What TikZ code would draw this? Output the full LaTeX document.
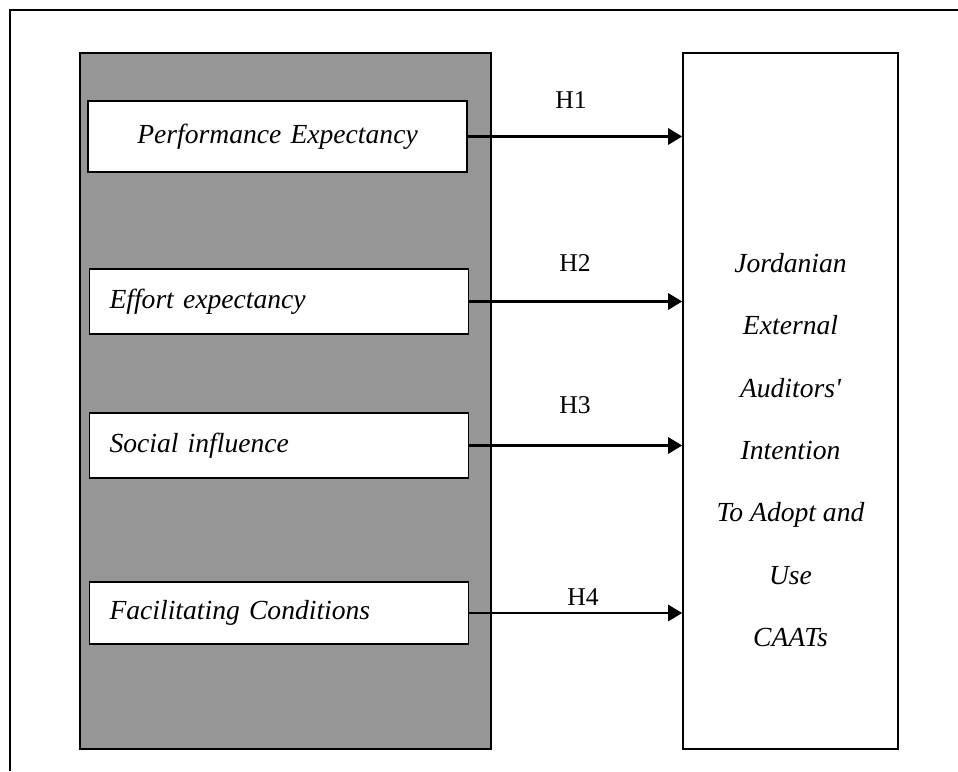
\documentclass[tikz,border=0pt]{standalone}
\usepackage{fontspec}
\setmainfont{Liberation Serif}
\usepackage{tikz}
\usetikzlibrary{arrows.meta}

\definecolor{panelgray}{RGB}{150,150,150}

\begin{document}
\begin{tikzpicture}[x=0.5pt, y=-0.5pt, inner sep=0pt]
    \tikzstyle{panel}=[rectangle, fill=panelgray, draw=black, line width=1pt, minimum width=205.5pt, minimum height=348pt]
    \tikzstyle{outbox}=[rectangle, fill=white, draw=black, line width=0.8pt, minimum width=107.5pt, minimum height=348pt]
    \tikzstyle{fac}=[rectangle, fill=white, draw=black, line width=0.8pt, text width=179.5pt, inner xsep=5pt, align=left, font=\fontsize{13.8}{16}\selectfont\itshape]
    \tikzstyle{hyp}=[draw=black, line width=1.4pt, -{Triangle[length=7pt,width=8pt]}]
    \tikzstyle{hlab}=[font=\fontsize{12.8}{14}\selectfont]

    \useasboundingbox (0,0) rectangle (958,771);
    \draw[line width=0.6pt] (10,771) -- (10,10) -- (958,10);

    \node[panel] (G) at (285.5,401) {};
    \node[outbox] (CAAT) at (790.5,401) {};

    \node[fac, align=center, minimum height=35.5pt] (PE) at (277.5,136.5) {Performance Expectancy};
    \node[fac, minimum height=32.5pt] (EE) at (279,301.5) {\hspace*{5pt}Effort expectancy};
    \node[fac, minimum height=32.5pt] (SI) at (279,445.5) {\hspace*{5pt}Social influence};
    \node[fac, minimum height=31pt] (FC) at (279,613) {\hspace*{5pt}Facilitating Conditions};

    \node[align=center, font=\fontsize{13.8}{31.2}\selectfont\itshape] (AIM) at (790.5,450)
        {Jordanian\\External\\Auditors\textquotesingle\\Intention\\To Adopt and\\Use\\CAATs};

    \node[hlab] (H1) at (571,100) {H1};
    \node[hlab] (H2) at (575,263) {H2};
    \node[hlab] (H3) at (575,405) {H3};
    \node[hlab] (H4) at (583,597) {H4};

    \draw[hyp] (PE.east) -- (PE.east -| CAAT.west);
    \draw[hyp] (EE.east) -- (EE.east -| CAAT.west);
    \draw[hyp] (SI.east) -- (SI.east -| CAAT.west);
    \draw[hyp] (FC.east) -- (FC.east -| CAAT.west);
\end{tikzpicture}
\end{document}
